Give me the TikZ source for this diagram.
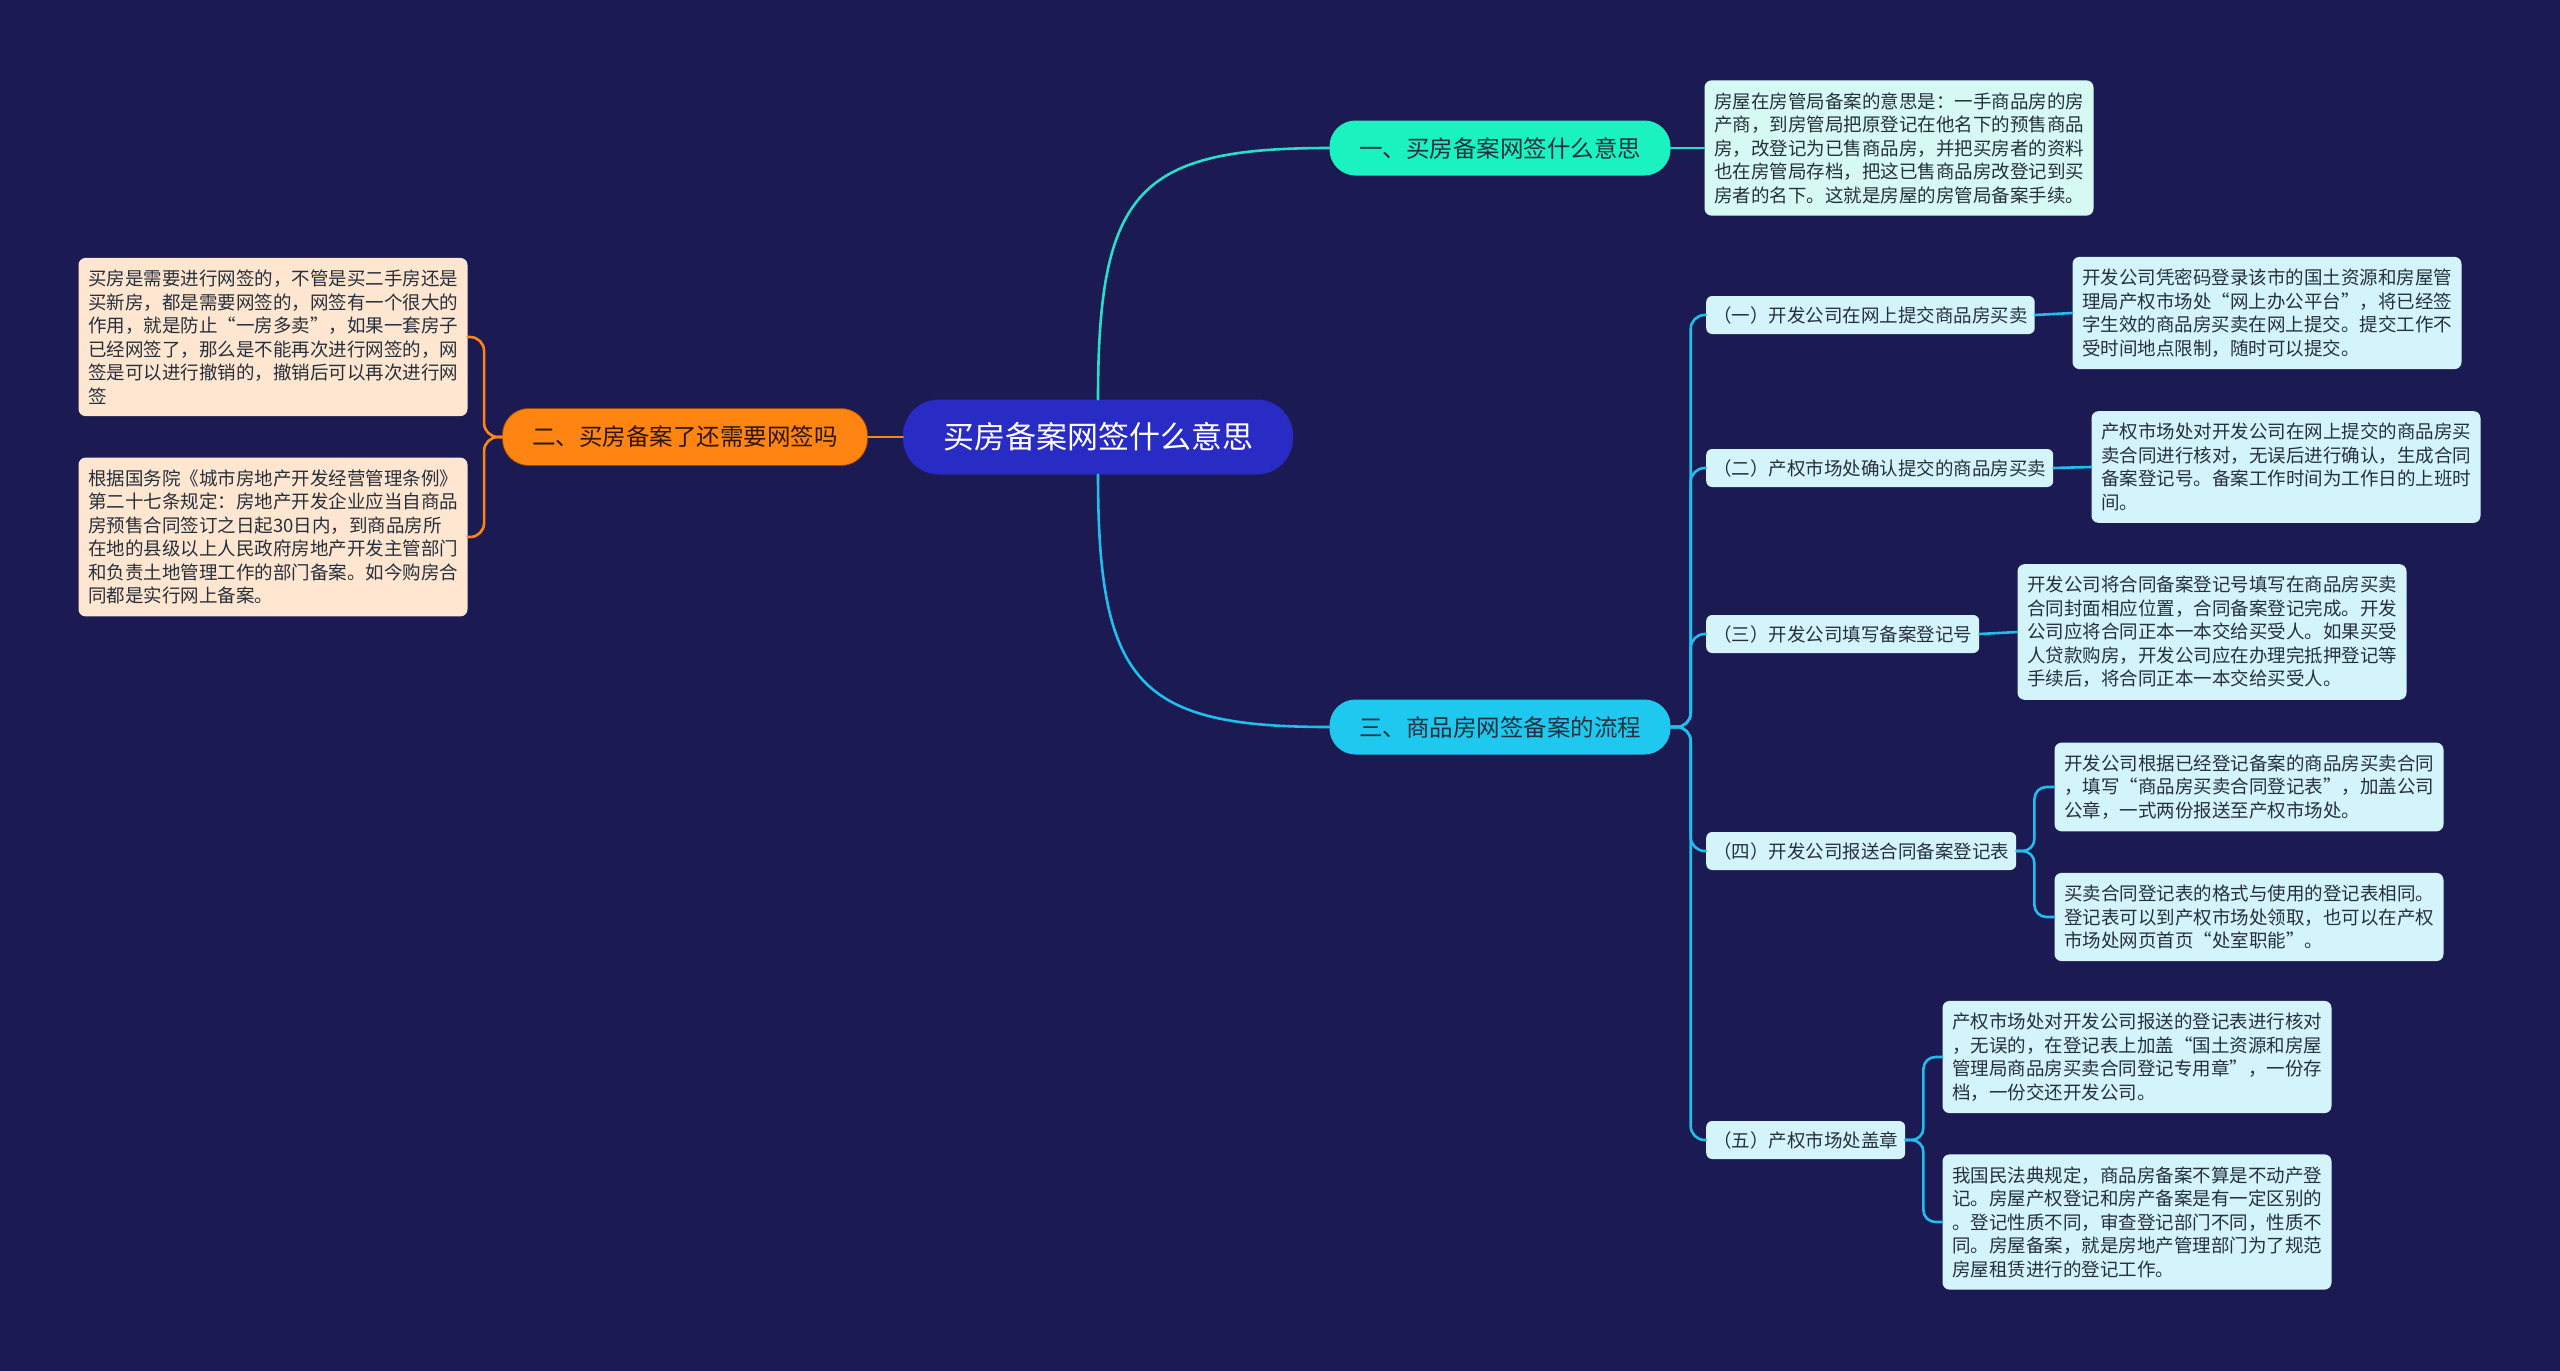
\documentclass[tikz,border=0pt]{standalone}
\usepackage{fontspec}
\usepackage{tikz}
\usepackage{xcolor}
\usetikzlibrary{positioning,calc}
\newfontfamily\cjk{Noto Sans CJK SC}
\definecolor{bgnavy}{RGB}{27,26,82}
\definecolor{rootblue}{RGB}{40,43,196}
\definecolor{mint}{RGB}{26,242,192}
\definecolor{mintline}{RGB}{40,222,200}
\definecolor{sky}{RGB}{30,200,238}
\definecolor{skyline}{RGB}{32,190,236}
\definecolor{amber}{RGB}{255,133,18}
\definecolor{amberdark}{RGB}{150,70,10}
\definecolor{peach}{RGB}{255,230,208}
\definecolor{icefill}{RGB}{212,244,252}
\definecolor{mintfill}{RGB}{214,250,243}
\definecolor{inktext}{RGB}{38,48,60}

\begin{document}
\begin{tikzpicture}[x=1pt,y=-1pt,
          line cap=round,line join=round,
          rootnode/.style={fill=rootblue,text=white,minimum width=390pt,minimum height=75pt,
            rounded corners=36pt,inner sep=0pt,font=\cjk\fontsize{31}{36}\selectfont},
          topic/.style={minimum width=341pt,minimum height=55pt,rounded corners=26pt,
            inner sep=0pt,text=inktext,font=\cjk\fontsize{23.5}{28}\selectfont},
          subnode/.style={anchor=west,fill=icefill,text=inktext,rounded corners=6pt,
            inner xsep=7pt,inner ysep=0pt,minimum height=38pt,font=\cjk\fontsize{18.5}{22}\selectfont},
          detail/.style={fill=icefill,text=inktext,rounded corners=7pt,align=left,
            minimum width=389pt,inner xsep=8pt,inner ysep=12pt,font=\cjk\fontsize{18.5}{23.5}\selectfont},
          link/.style={line width=2.6pt}]
        \useasboundingbox (0,0) rectangle (2560,1371);
        \fill[bgnavy] (0,0) rectangle (2560,1371);

        \node[rootnode] (root) at (1098,437) {买房备案网签什么意思};
        \node[topic,fill=mint] (b1) at (1500,148) {一、买房备案网签什么意思};
        \node[topic,fill=amber,draw=amberdark,line width=0.8pt,minimum width=365pt,minimum height=57pt,
              text=black!70!amberdark] (b2) at (685,437) {二、买房备案了还需要网签吗};
        \node[topic,fill=sky] (b3) at (1500,727) {三、商品房网签备案的流程};

        \node[detail,fill=mintfill] (d0) at (1899,148) {房屋在房管局备案的意思是：一手商品房的房\\
          产商，到房管局把原登记在他名下的预售商品\\
          房，改登记为已售商品房，并把买房者的资料\\
          也在房管局存档，把这已售商品房改登记到买\\
          房者的名下。这就是房屋的房管局备案手续。};

        \node[detail,fill=peach] (l1) at (273,337) {买房是需要进行网签的，不管是买二手房还是\\
          买新房，都是需要网签的，网签有一个很大的\\
          作用，就是防止“一房多卖”，如果一套房子\\
          已经网签了，那么是不能再次进行网签的，网\\
          签是可以进行撤销的，撤销后可以再次进行网\\
          签};
        \node[detail,fill=peach] (l2) at (273,537) {根据国务院《城市房地产开发经营管理条例》\\
          第二十七条规定：房地产开发企业应当自商品\\
          房预售合同签订之日起30日内，到商品房所\\
          在地的县级以上人民政府房地产开发主管部门\\
          和负责土地管理工作的部门备案。如今购房合\\
          同都是实行网上备案。};

        \node[subnode] (s1) at (1706,315) {（一）开发公司在网上提交商品房买卖};
        \node[subnode] (s2) at (1706,468) {（二）产权市场处确认提交的商品房买卖};
        \node[subnode] (s3) at (1706,634) {（三）开发公司填写备案登记号};
        \node[subnode] (s4) at (1706,851) {（四）开发公司报送合同备案登记表};
        \node[subnode] (s5) at (1706,1140) {（五）产权市场处盖章};

        \node[detail] (d1) at (2267,313) {开发公司凭密码登录该市的国土资源和房屋管\\
          理局产权市场处“网上办公平台”，将已经签\\
          字生效的商品房买卖在网上提交。提交工作不\\
          受时间地点限制，随时可以提交。};
        \node[detail] (d2) at (2286,467) {产权市场处对开发公司在网上提交的商品房买\\
          卖合同进行核对，无误后进行确认，生成合同\\
          备案登记号。备案工作时间为工作日的上班时\\
          间。};
        \node[detail] (d3) at (2212,632) {开发公司将合同备案登记号填写在商品房买卖\\
          合同封面相应位置，合同备案登记完成。开发\\
          公司应将合同正本一本交给买受人。如果买受\\
          人贷款购房，开发公司应在办理完抵押登记等\\
          手续后，将合同正本一本交给买受人。};
        \node[detail] (d4a) at (2249,787) {开发公司根据已经登记备案的商品房买卖合同\\
          ，填写“商品房买卖合同登记表”，加盖公司\\
          公章，一式两份报送至产权市场处。};
        \node[detail] (d4b) at (2249,917) {买卖合同登记表的格式与使用的登记表相同。\\
          登记表可以到产权市场处领取，也可以在产权\\
          市场处网页首页“处室职能”。};
        \node[detail] (d5a) at (2137,1057) {产权市场处对开发公司报送的登记表进行核对\\
          ，无误的，在登记表上加盖“国土资源和房屋\\
          管理局商品房买卖合同登记专用章”，一份存\\
          档，一份交还开发公司。};
        \node[detail] (d5b) at (2137,1222) {我国民法典规定，商品房备案不算是不动产登\\
          记。房屋产权登记和房产备案是有一定区别的\\
          。登记性质不同，审查登记部门不同，性质不\\
          同。房屋备案，就是房地产管理部门为了规范\\
          房屋租赁进行的登记工作。};

        \draw[link,draw=mintline] (root.north) .. controls +(0,-210) and +(-190,0) .. (b1.west);
        \draw[link,draw=skyline] (root.south) .. controls +(0,210) and +(-190,0) .. (b3.west);
        \draw[link,draw=amber] (root.west) -- (b2.east);
        \draw[link,draw=mintline] (b1.east) -- (d0.west);
        \foreach \t in {l1,l2}
          \draw[link,draw=amber,rounded corners=14pt] (b2.west) -- ++(-18,0) |- (\t.east);
        \foreach \t in {s1,s2,s3,s4,s5}
          \draw[link,draw=skyline,rounded corners=14pt] (b3.east) -- ++(20,0) |- (\t.west);
        \draw[link,draw=skyline] (s1.east) -- (d1.west);
        \draw[link,draw=skyline] (s2.east) -- (d2.west);
        \draw[link,draw=skyline] (s3.east) -- (d3.west);
        \foreach \t in {d4a,d4b}
          \draw[link,draw=skyline,rounded corners=12pt] (s4.east) -- ++(18,0) |- (\t.west);
        \foreach \t in {d5a,d5b}
          \draw[link,draw=skyline,rounded corners=12pt] (s5.east) -- ++(18,0) |- (\t.west);
      \end{tikzpicture}
\end{document}
